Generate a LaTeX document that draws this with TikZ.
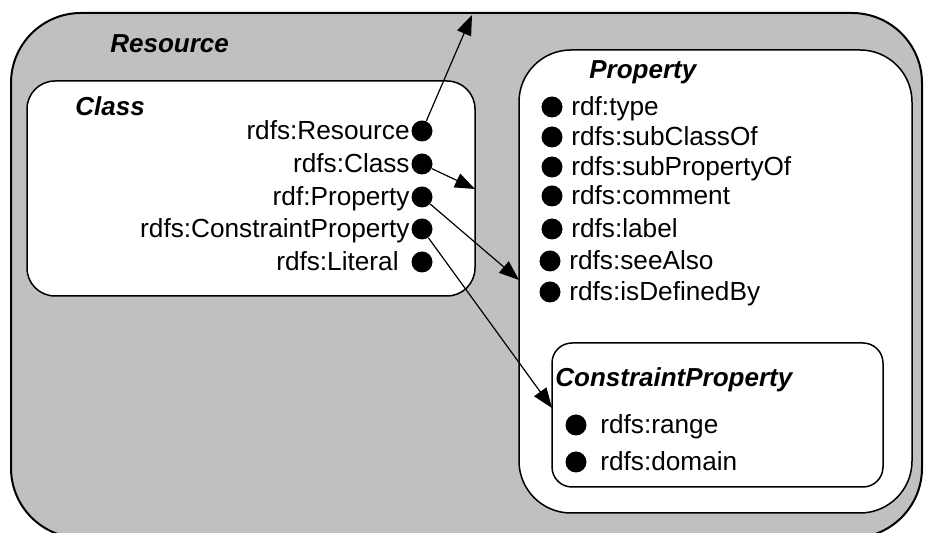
\documentclass[tikz,border=0pt]{standalone}
\usepackage{fontspec}
\setmainfont{Liberation Sans}
\usepackage{tikz}
\usetikzlibrary{arrows.meta}
\definecolor{resgray}{RGB}{192,192,192}

\begin{document}
\begin{tikzpicture}[x=0.5pt,y=-0.5pt,
    box/.style={draw,line width=0.75pt,fill=white,rounded corners=#1},
    title/.style={font=\fontsize{13}{15}\selectfont\bfseries\itshape,anchor=west,inner sep=0pt,text height=9pt,text depth=0pt},
    item/.style={font=\fontsize{13.1}{15}\selectfont,inner sep=0pt,text height=9pt,text depth=0pt},
    dot/.style={circle,fill=black,inner sep=0pt,minimum size=10.5pt},
    link/.style={line width=0.6pt,-{Triangle[length=10pt,width=7.5pt]}}]
        \useasboundingbox (0,0) rectangle (928,533);
        % outer area
        \draw[line width=1pt,fill=resgray,rounded corners=35pt] (11,13) rectangle (922,538);
        \node[title] (resource) at (110,44) {Resource};

        % class box
        \draw[box=14pt] (27,81) rectangle (475,296);
        \node[title] (class) at (75,107) {Class};
        \node[item,anchor=east] (tcres) at (410,131) {rdfs:Resource};
        \node[item,anchor=east] (tccls) at (410,164) {rdfs:Class};
        \node[item,anchor=east] (tcprop) at (410,197) {rdf:Property};
        \node[item,anchor=east] (tccons) at (410,229) {rdfs:ConstraintProperty};
        \node[item,anchor=east] (tclit) at (399,262) {rdfs:Literal};
        \node[dot] (cres) at (422,131) {};
        \node[dot] (ccls) at (422,164) {};
        \node[dot] (cprop) at (422,197) {};
        \node[dot] (ccons) at (422,229) {};
        \node[dot] (clit) at (422,262) {};

        % property box
        \draw[box=26pt] (519,50) rectangle (912,513);
        \node[title] (property) at (589,70) {Property};
        \node[dot] (ptype) at (552,107) {};
        \node[dot] (psubc) at (552,137) {};
        \node[dot] (psubp) at (552,167) {};
        \node[dot] (pcomm) at (552,196) {};
        \node[dot] (plab) at (552,229) {};
        \node[dot] (psee) at (550,261) {};
        \node[dot] (pdef) at (550,292) {};
        \node[item,anchor=west] at (571,107) {rdf:type};
        \node[item,anchor=west] at (571,137) {rdfs:subClassOf};
        \node[item,anchor=west] at (571,167) {rdfs:subPropertyOf};
        \node[item,anchor=west] at (571,196) {rdfs:comment};
        \node[item,anchor=west] at (571,229) {rdfs:label};
        \node[item,anchor=west] at (569,261) {rdfs:seeAlso};
        \node[item,anchor=west] at (569,292) {rdfs:isDefinedBy};

        % constraint property box
        \draw[box=10pt] (552,343) rectangle (883,487);
        \node[title] (constraint) at (555,378) {ConstraintProperty};
        \node[dot] (crange) at (576,425) {};
        \node[dot] (cdom) at (576,462) {};
        \node[item,anchor=west] at (600,425) {rdfs:range};
        \node[item,anchor=west] at (600,462) {rdfs:domain};

        % links
        \coordinate (toptip) at (472,15);
        \coordinate (clstip) at (475,189);
        \coordinate (proptip) at (519,280);
        \coordinate (constip) at (552,408);
        \draw[link] (cres) -- (toptip);
        \draw[link] (ccls) -- (clstip);
        \draw[link] (cprop) -- (proptip);
        \draw[link] (ccons) -- (constip);
    \end{tikzpicture}
\end{document}
